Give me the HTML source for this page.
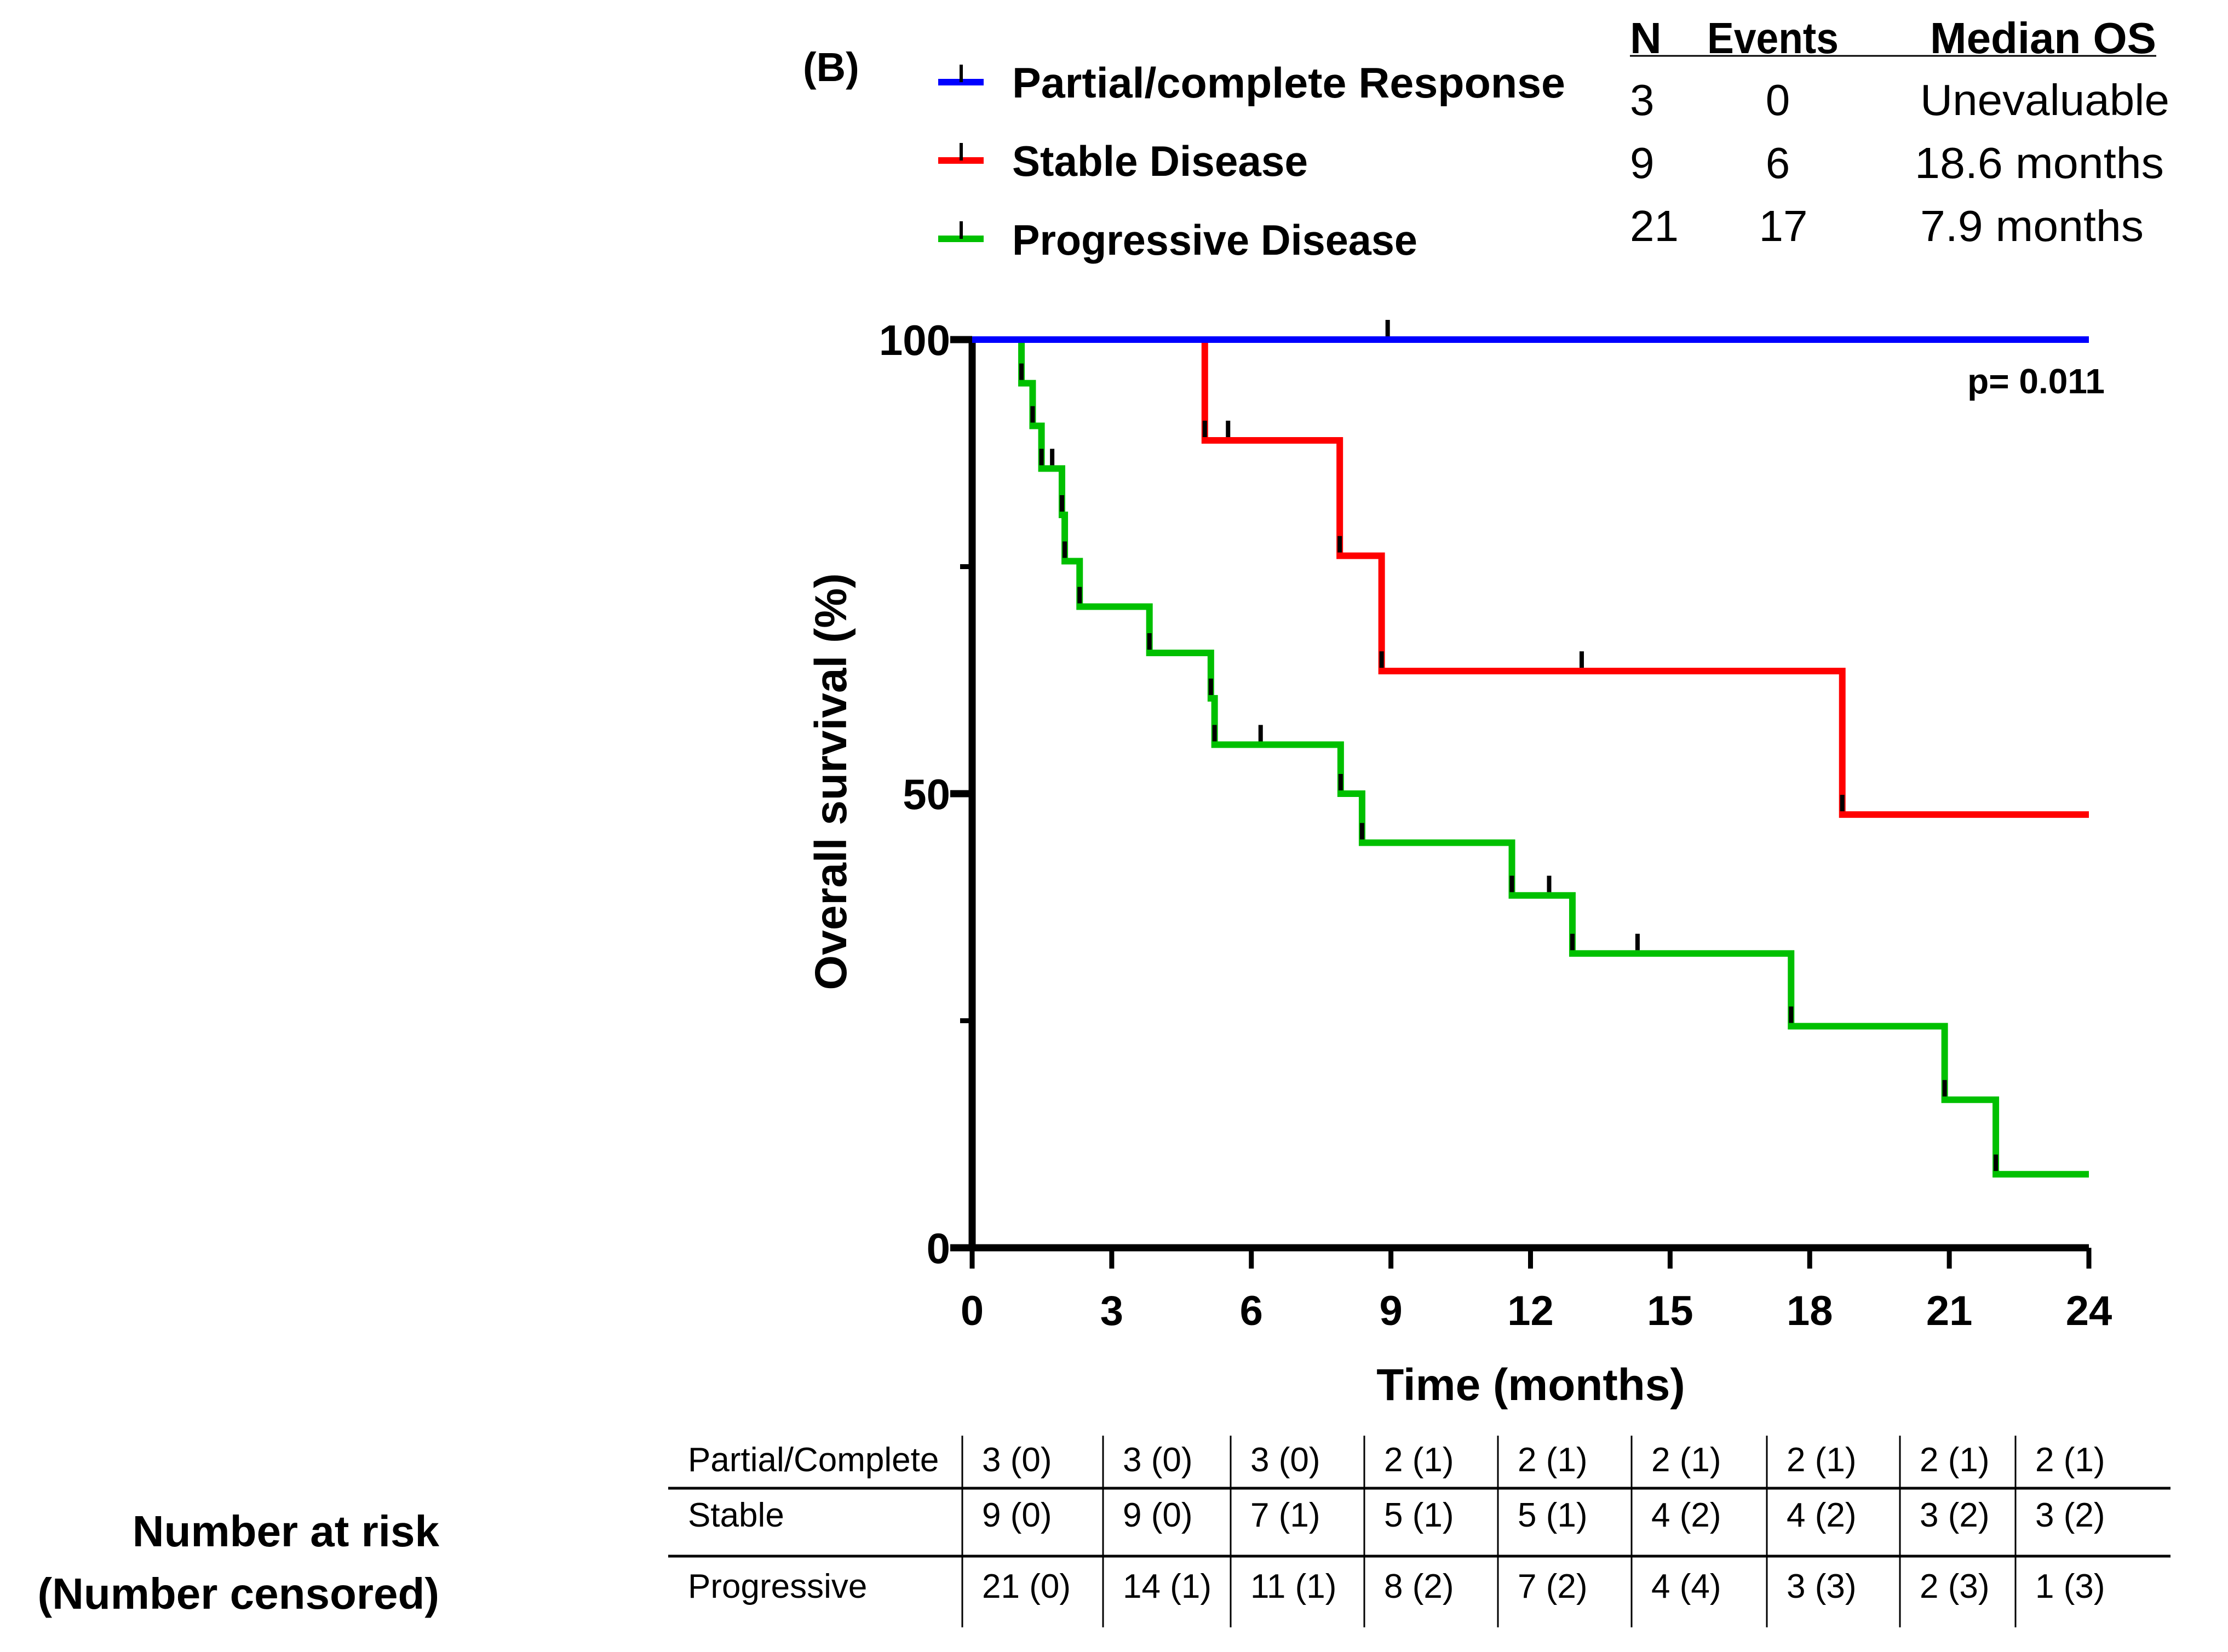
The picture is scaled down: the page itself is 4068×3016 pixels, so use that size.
<!DOCTYPE html>
<html><head><meta charset="utf-8"><style>
html,body{margin:0;padding:0;background:#fff;}
svg{display:block;}
text{font-family:"Liberation Sans Narrow","Liberation Sans",sans-serif;fill:#000;}
.b{font-weight:bold;}
</style></head><body>
<svg id="chart" width="4068" height="3016" viewBox="0 0 4068 3016" xmlns="http://www.w3.org/2000/svg">
<text class="b" x="1466" y="148" font-size="74">(B)</text>
<g>
 <g><line x1="1713" y1="150" x2="1796" y2="150" stroke="#0000ff" stroke-width="12"/><line x1="1755" y1="118" x2="1755" y2="150" stroke="#000" stroke-width="6"/><text class="b" x="1848" y="178" font-size="78" textLength="1010" lengthAdjust="spacingAndGlyphs">Partial/complete Response</text></g>
 <g><line x1="1713" y1="293" x2="1796" y2="293" stroke="#ff0000" stroke-width="12"/><line x1="1755" y1="261" x2="1755" y2="293" stroke="#000" stroke-width="6"/><text class="b" x="1848" y="321" font-size="78" textLength="540" lengthAdjust="spacingAndGlyphs">Stable Disease</text></g>
 <g><line x1="1713" y1="436" x2="1796" y2="436" stroke="#00c000" stroke-width="12"/><line x1="1755" y1="404" x2="1755" y2="436" stroke="#000" stroke-width="6"/><text class="b" x="1848" y="465" font-size="78" textLength="740" lengthAdjust="spacingAndGlyphs">Progressive Disease</text></g>
</g>
<g font-size="80">
 <text class="b" x="2976" y="97">N</text>
 <text class="b" x="3117" y="97" textLength="240" lengthAdjust="spacingAndGlyphs">Events</text>
 <text class="b" x="3524" y="97" textLength="413" lengthAdjust="spacingAndGlyphs">Median OS</text>
 <line x1="2976" y1="102" x2="3937" y2="102" stroke="#000" stroke-width="3"/>
 <text x="2976" y="210">3</text><text x="3246" y="210" text-anchor="middle">0</text><text x="3506" y="210" textLength="455" lengthAdjust="spacingAndGlyphs">Unevaluable</text>
 <text x="2976" y="325">9</text><text x="3246" y="325" text-anchor="middle">6</text><text x="3496" y="325" textLength="455" lengthAdjust="spacingAndGlyphs">18.6 months</text>
 <text x="2976" y="440">21</text><text x="3256" y="440" text-anchor="middle">17</text><text x="3506" y="440" textLength="408" lengthAdjust="spacingAndGlyphs">7.9 months</text>
</g>
<g id="plot"></g>
<text class="b" x="3843" y="718" font-size="64" text-anchor="end">p= 0.011</text>
<text class="b" x="2795" y="2556" font-size="82" text-anchor="middle">Time (months)</text>
<text class="b" font-size="82" text-anchor="middle" transform="translate(1545,1427) rotate(-90)">Overall survival (%)</text>
<g class="b" font-size="80" text-anchor="end">
 <text class="b" x="802" y="2823">Number at risk</text>
 <text class="b" x="802" y="2937">(Number censored)</text>
</g>
<g id="risk"></g>
</svg>
<script>
const xTicks = [0,3,6,9,12,15,18,21,24];
const yTickLabels = [0,50,100];
const yMinorTicks = [25,75];
const respSteps = [[0,100],[24,100]];
const stableSteps = [[0,100],[5.0,88.9],[7.9,76.2],[8.8,63.5],[18.7,47.7],[24,47.7]];
const progSteps = [[0,100],[1.06,95.2],[1.30,90.5],[1.49,85.8],[1.93,80.7],[1.99,75.6],[2.31,70.6],[3.81,65.5],[5.13,60.5],[5.21,55.4],[7.92,50],[8.38,44.6],[11.6,38.8],[12.9,32.4],[17.6,24.4],[20.9,16.3],[22.0,8.1],[24,8.1]];
const respCensor = [[8.93,100]];
const stableCensor = [[5.0,88.9],[5.5,88.9],[7.9,76.2],[8.8,63.5],[13.1,63.5],[18.7,47.7]];
const progCensor = [[1.06,95.2],[1.30,90.5],[1.49,85.8],[1.72,85.8],[1.93,80.7],[1.99,75.6],[2.31,70.6],[3.81,65.5],[5.13,60.5],[5.21,55.4],[6.2,55.4],[7.92,50],[8.38,44.6],[11.6,38.8],[12.4,38.8],[12.9,32.4],[14.3,32.4],[17.6,24.4],[20.9,16.3],[22.0,8.1]];
const riskRowLabels = ["Partial/Complete","Stable","Progressive"];
const riskResp = ["3 (0)","3 (0)","3 (0)","2 (1)","2 (1)","2 (1)","2 (1)","2 (1)","2 (1)"];
const riskStable = ["9 (0)","9 (0)","7 (1)","5 (1)","5 (1)","4 (2)","4 (2)","3 (2)","3 (2)"];
const riskProg = ["21 (0)","14 (1)","11 (1)","8 (2)","7 (2)","4 (4)","3 (3)","2 (3)","1 (3)"];

const NS="http://www.w3.org/2000/svg";
const X0=1775,X1=3814,Y0=2278,Y1=620;
function sx(t){return X0+(X1-X0)*t/24;}
function sy(v){return Y0-(Y0-Y1)*v/100;}
function mk(tag,attrs,parent){const e=document.createElementNS(NS,tag);for(const k in attrs)e.setAttribute(k,attrs[k]);parent.appendChild(e);return e;}
const plot=document.getElementById('plot');
let ax=mk('line',{x1:X0,y1:Y0,x2:X1,y2:Y0,stroke:'#000','stroke-width':13},plot);


let ay=mk('line',{x1:X0,y1:Y0+6,x2:X0,y2:Y1-6,stroke:'#000','stroke-width':13},plot);


xTicks.forEach(t=>{
 const l=mk('line',{x1:sx(t),y1:Y0,x2:sx(t),y2:Y0+38,stroke:'#000','stroke-width':9},plot);
 
 
 const tx=mk('text',{x:sx(t),y:2419,'font-size':76,'text-anchor':'middle','font-weight':'bold'},plot);
 tx.textContent=t;
 
 
});
yTickLabels.forEach(v=>{
 const l=mk('line',{x1:X0-40,y1:sy(v),x2:X0,y2:sy(v),stroke:'#000','stroke-width':13},plot);
 
 
 const tx=mk('text',{x:1735,y:sy(v)+28,'font-size':78,'text-anchor':'end','font-weight':'bold'},plot);
 tx.textContent=v;
 
 
});
yMinorTicks.forEach(v=>{
 const l=mk('line',{x1:X0-22,y1:sy(v),x2:X0,y2:sy(v),stroke:'#000','stroke-width':9},plot);
 
 
});
function drawSeries(steps,color,name){
 let d='M'+sx(steps[0][0])+','+sy(steps[0][1]);
 for(let i=1;i<steps.length;i++){d+=' H'+sx(steps[i][0])+' V'+sy(steps[i][1]);}
 const p=mk('path',{d:d,fill:'none',stroke:color,'stroke-width':12,'stroke-linejoin':'miter'},plot);
 
 
}
function drawCensor(arr,name){
 arr.forEach(c=>{
  const l=mk('line',{x1:sx(c[0]),y1:sy(c[1])-6,x2:sx(c[0]),y2:sy(c[1])-36,stroke:'#000','stroke-width':8},plot);
  
  
 });
}
drawSeries(progSteps,'#00c000','progressive-curve');
drawSeries(stableSteps,'#ff0000','stable-curve');
drawSeries(respSteps,'#0000ff','response-curve');
drawCensor(progCensor,'progressive-censor-mark');
drawCensor(stableCensor,'stable-censor-mark');
drawCensor(respCensor,'response-censor-mark');
const risk=document.getElementById('risk');
const colLines=[1757,2014,2247,2491,2735,2979,3226,3469,3680];
const rowBase=[2686,2787,2917];
[2717,2841].forEach(y=>{
 const l=mk('line',{x1:1220,y1:y,x2:3963,y2:y,stroke:'#000','stroke-width':5},risk);
 
 
});
colLines.forEach(x=>{
 const l=mk('line',{x1:x,y1:2621,x2:x,y2:2971,stroke:'#000','stroke-width':3},risk);
 
 
});
[riskResp,riskStable,riskProg].forEach((row,r)=>{
 const lab=mk('text',{x:1256,y:rowBase[r],'font-size':62},risk);
 lab.textContent=riskRowLabels[r];
 
 
 row.forEach((s,i)=>{
  const t=mk('text',{x:colLines[i]+36,y:rowBase[r],'font-size':62},risk);
  t.textContent=s;
  
  
 });
});
</script>
</body></html>
